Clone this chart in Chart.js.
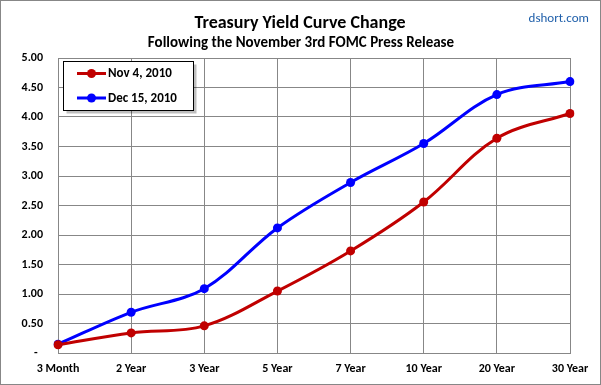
<!DOCTYPE html>
<html>
<head>
<meta charset="utf-8">
<script src="https://cdn.jsdelivr.net/npm/chart.js@4.4.1/dist/chart.umd.min.js"></script>
<style>
  html, body { margin: 0; padding: 0; background: #fff; }
  canvas { display: block; }
</style>
</head>
<body>
<canvas id="yieldChart" width="601" height="385"></canvas>
<script>
// Данные кривой доходности
const maturities = ['3 Month', '2 Year', '3 Year', '5 Year', '7 Year', '10 Year', '20 Year', '30 Year'];
const nov4Yields = [0.14, 0.34, 0.46, 1.05, 1.73, 2.56, 3.64, 4.06];
const dec15Yields = [0.15, 0.69, 1.09, 2.12, 2.89, 3.55, 4.38, 4.60];
const seriesNames = ['Nov 4, 2010', 'Dec 15, 2010'];
const seriesColors = ['#C00000', '#0000FF'];

const FONT = "Carlito, Lato, 'Liberation Sans', sans-serif";
const gridColor = '#878787';

// Фон, рамка и заголовки
const framePlugin = {
    id: 'frame',
    beforeDraw(chart) {
        const ctx = chart.ctx;
        ctx.save();
        ctx.fillStyle = '#fff';
        ctx.fillRect(0, 0, chart.width, chart.height);
        ctx.strokeStyle = gridColor;
        ctx.lineWidth = 1;
        ctx.strokeRect(0.5, 0.5, chart.width - 1, chart.height - 1);
        ctx.restore();
    },
    afterDraw(chart) {
        const ctx = chart.ctx;
        ctx.save();
        ctx.textAlign = 'center';
        ctx.textBaseline = 'alphabetic';
        ctx.fillStyle = '#000';
        ctx.font = 'bold 18px ' + FONT;
        ctx.fillText('Treasury Yield Curve Change', 300, 28);
        ctx.font = 'bold 15px ' + FONT;
        ctx.fillText('Following the November 3rd FOMC Press Release', 301, 47);
        ctx.fillStyle = '#1F5FAA';
        ctx.font = '13px ' + FONT;
        ctx.textAlign = 'right';
        ctx.fillText('dshort.com', 589, 22);
        ctx.restore();
    }
};

// Легенда внутри области графика
const boxLegendPlugin = {
    id: 'boxLegend',
    afterDraw(chart) {
        const ctx = chart.ctx;
        const x = 63.5, y = 61.5, w = 130, h = 49;
        ctx.save();
        ctx.fillStyle = 'rgba(0, 0, 0, 0.25)';
        ctx.fillRect(x + 3, y + 3, w, h);
        ctx.fillStyle = '#fff';
        ctx.fillRect(x, y, w, h);
        ctx.strokeStyle = '#000';
        ctx.lineWidth = 1;
        ctx.strokeRect(x, y, w, h);
        chart.data.datasets.forEach((ds, i) => {
            const ly = 73.5 + i * 24.5;
            ctx.strokeStyle = ds.borderColor;
            ctx.lineWidth = 3;
            ctx.beginPath();
            ctx.moveTo(77, ly);
            ctx.lineTo(106, ly);
            ctx.stroke();
            ctx.fillStyle = ds.borderColor;
            ctx.beginPath();
            ctx.arc(91.5, ly, 4.5, 0, Math.PI * 2);
            ctx.fill();
            ctx.fillStyle = '#000';
            ctx.font = 'bold 13px ' + FONT;
            ctx.textAlign = 'left';
            ctx.textBaseline = 'middle';
            ctx.fillText(ds.label, 108, ly + 0.5);
        });
        ctx.restore();
    }
};

const yieldData = {
    labels: maturities,
    datasets: [nov4Yields, dec15Yields].map((vals, i) => ({
        label: seriesNames[i],
        data: vals,
        borderColor: seriesColors[i],
        backgroundColor: seriesColors[i],
        pointBackgroundColor: seriesColors[i],
        pointBorderWidth: 0,
        pointRadius: 4.5,
        borderWidth: 3,
        tension: 0.35,
        fill: false
    }))
};

const tickFont = { family: FONT, size: 12, weight: 'bold' };

new Chart(document.getElementById('yieldChart'), {
    type: 'line',
    data: yieldData,
    options: {
        responsive: false,
        animation: false,
        devicePixelRatio: 1,
        layout: { padding: { top: 58, right: 31, left: 0, bottom: 0 } },
        plugins: {
            legend: { display: false },
            title: { display: false },
            tooltip: { enabled: false }
        },
        scales: {
            x: {
                offset: false,
                grid: { color: gridColor, drawTicks: false },
                border: { color: gridColor },
                ticks: { color: '#000', font: tickFont, padding: 9, maxRotation: 0, autoSkip: false },
                afterFit(scale) { scale.height = 32; }
            },
            y: {
                min: 0,
                max: 5,
                grid: { color: gridColor, drawTicks: false },
                border: { color: gridColor },
                ticks: {
                    stepSize: 0.5,
                    color: '#000',
                    font: tickFont,
                    padding: 15,
                    callback: v => v === 0 ? '-  ' : v.toFixed(2)
                },
                afterFit(scale) { scale.width = 58; }
            }
        }
    },
    plugins: [framePlugin, boxLegendPlugin]
});
</script>
</body>
</html>
